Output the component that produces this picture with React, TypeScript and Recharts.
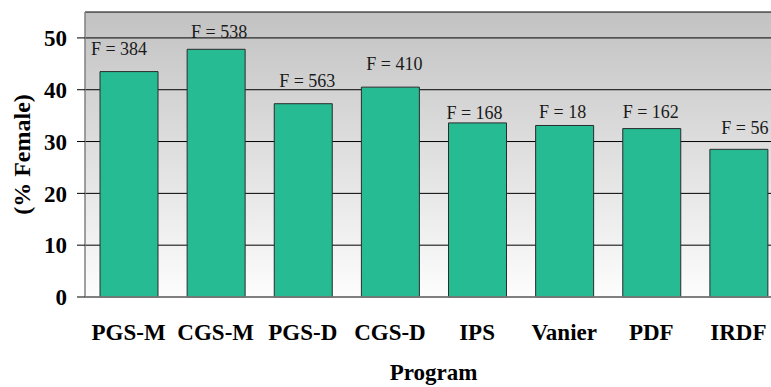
import { BarChart, Bar, XAxis, YAxis, CartesianGrid, LabelList } from "recharts";

const programs = ["PGS-M", "CGS-M", "PGS-D", "CGS-D", "IPS", "Vanier", "PDF", "IRDF"];
const pctFemale = [43.5, 47.8, 37.3, 40.5, 33.6, 33.1, 32.5, 28.5];
const femaleCounts = [384, 538, 563, 410, 168, 18, 162, 56];
const yTicks = [0, 10, 20, 30, 40, 50];

// small per-label nudges so the "F = n" texts sit where the original put them
const labelDx = [-10, 3, 4, 4, -3, -2, -1, 6];
const labelGap = [17, 11, 17, 17, 4, 7, 11, 15];

const data = programs.map((p, i) => ({ program: p, pct: pctFemale[i], n: femaleCounts[i] }));

const serif = "'Liberation Serif', 'Times New Roman', serif";
const tickStyle = { fontFamily: serif, fontWeight: 700, fontSize: 23, fill: "#000" };

const CountLabel = (props: any) => {
  const { x, y, width, index } = props;
  return (
    <text
      x={x + width / 2 + labelDx[index]}
      y={y - labelGap[index]}
      textAnchor="middle"
      fontFamily={serif}
      fontSize={18}
      fill="#1a1a1a"
    >
      {`F = ${femaleCounts[index]}`}
    </text>
  );
};

const YTitle = (props: any) => {
  const vb = props.viewBox;
  const cx = 22;
  const cy = vb.y + vb.height / 2;
  return (
    <text
      x={cx}
      y={cy}
      transform={`rotate(-90 ${cx} ${cy})`}
      textAnchor="middle"
      dominantBaseline="central"
      fontFamily={serif}
      fontWeight={700}
      fontSize={24}
      fill="#000"
    >
      (% Female)
    </text>
  );
};

export default function App() {
  return (
    <div style={{ position: "absolute", left: 0, top: 0, width: 771, height: 387, overflow: "hidden", background: "#fff" }}>
      <BarChart width={790} height={387} data={data} margin={{ top: 12, right: 8, bottom: 0, left: 0 }}>
        <defs>
          <linearGradient id="plotBg" x1="0" y1="0" x2="0" y2="1">
            <stop offset="0%" stopColor="#c2c2c2" />
            <stop offset="100%" stopColor="#fdfdfd" />
          </linearGradient>
        </defs>
        <CartesianGrid vertical={false} stroke="#000" strokeWidth={1} fill="url(#plotBg)" fillOpacity={1} />
        <XAxis
          dataKey="program"
          height={90}
          tickLine={false}
          tickSize={0}
          tickMargin={27}
          axisLine={{ stroke: "#808080", strokeWidth: 1.5 }}
          tick={tickStyle}
          interval={0}
          label={{ value: "Program", position: "insideBottom", offset: 7, style: tickStyle }}
        />
        <YAxis
          width={85}
          domain={[0, 55]}
          ticks={yTicks}
          tickSize={8}
          tickMargin={10}
          axisLine={{ stroke: "#808080", strokeWidth: 1.5 }}
          tickLine={{ stroke: "#000" }}
          tick={tickStyle}
          label={(p: any) => <YTitle {...p} />}
        />
        <Bar dataKey="pct" fill="#27bb93" stroke="#2b2b2b" strokeWidth={1} barSize={58} isAnimationActive={false}>
          <LabelList dataKey="n" content={CountLabel} />
        </Bar>
      </BarChart>
    </div>
  );
}
